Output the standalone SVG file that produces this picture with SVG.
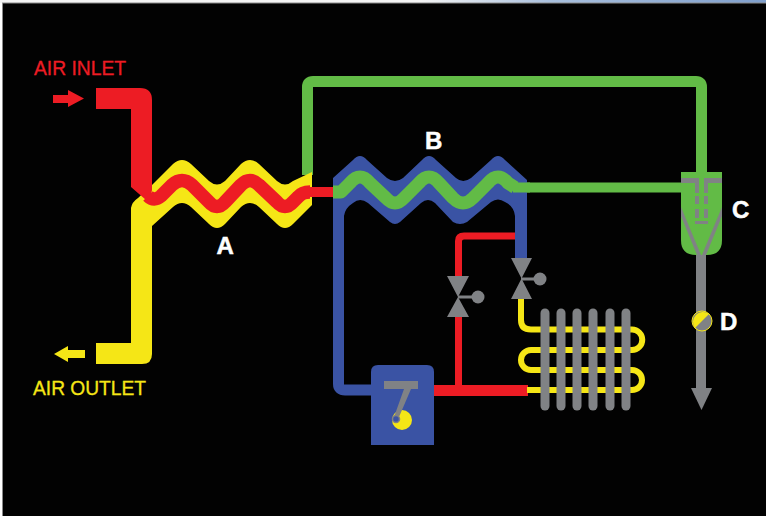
<svg xmlns="http://www.w3.org/2000/svg" width="766" height="516" viewBox="0 0 766 516">
<style>
.lab{font-family:"Liberation Sans",Arial,sans-serif;font-size:20px;stroke-width:.3}
.let{font-family:"Liberation Sans",Arial,sans-serif;font-size:24px;font-weight:bold;fill:#fff;stroke:#fff;stroke-width:.5}
.r{fill:#ED1C24}.y{fill:#F5E616}.b{fill:#3A53A4}.g{fill:#62BB46}.k{fill:#808285}
.pipe{fill:none;stroke-linejoin:round}
.coil{fill:none;stroke:#F5E616;stroke-width:6}
.fin{stroke:#808285;stroke-width:9;stroke-linecap:round}
.stem{stroke:#808285;stroke-width:3}
</style>
<defs>
<linearGradient id="edge" x1="0" x2="1" y1="0" y2="0">
<stop offset="0" stop-color="#f4f4f4"/><stop offset=".55" stop-color="#f4f4f4"/><stop offset=".72" stop-color="#a9c0de"/><stop offset="1" stop-color="#7f9fcc"/>
</linearGradient>
</defs>
<rect width="766" height="516" fill="#fff"/>
<rect width="766" height="3" fill="url(#edge)"/>
<rect x="2" y="2.500" width="764" height="514" fill="#8a8a8a"/>
<rect x="3" y="3.500" width="763" height="513" fill="#020202"/>

<g id="connectors">
<path id="pipe-green-top" class="pipe" stroke="#62BB46" stroke-width="11" d="M307.500 175V87Q307.500 81.500 313 81.500H696Q701.500 81.500 701.500 87V175"/>
<path id="pipe-blue-left" class="pipe" stroke="#3A53A4" stroke-width="11" d="M338.500 200V384Q338.500 390 345 390H375"/>
<path id="pipe-red-thin" class="pipe" stroke="#ED1C24" stroke-width="7" d="M458.500 278V241Q458.500 236 464 236H516"/>
<path id="pipe-red-low" class="pipe" stroke="#ED1C24" stroke-width="7" d="M458.500 315V388"/>
<rect id="pipe-red-thick" class="r" x="434" y="385" width="94" height="11"/>
<path id="pipe-green-mid" class="pipe" stroke="#62BB46" stroke-width="10" d="M515 187.500H685"/>
<rect id="pipe-gray" class="k" x="696" y="254" width="10" height="136"/>
<polygon id="outlet-head" class="k" points="691,388 712,388 701.500,410"/>
<polygon id="arrow-in" class="r" points="53,95 68,95 68,90 84,98.500 68,107 68,103 53,103"/>
<polygon id="arrow-out" class="y" points="54,354 68,346 68,350 85,350 85,358 68,358 68,362"/>
</g>

<g id="node-a">
<path class="y" d="M152 185L173 164Q182 156 191 164L209 181Q217 188 225 181L241 164Q250 156 259 164L277 181Q285 188 293 181L312 172V205L293 224Q285 232 277 224L259 207Q250 199 241 207L225 224Q217 232 209 224L191 207Q182 199 173 207L152 226V354Q152 364 142 364H96V343H131V208Q132 202 138 198Z"/>
<path class="r" d="M96 88H140Q152 88 152 100V190L150 200H146L131 187V109H96Z"/>
<path class="pipe" stroke="#ED1C24" stroke-width="13.500" d="M148 196Q154 202 161 196L172 185Q182 176 192 185L209 202Q217 211 225 202L241 185Q250 176 259 185L277 202Q285 211 293 202L298 197Q302 192 310 192"/>
<rect class="r" x="308" y="187" width="26" height="10"/>
<text class="let" x="216.500" y="254">A</text>
</g>

<g id="node-b">
<path class="b" d="M333 178L353 160Q360 152 367 160L387 178Q395 184 403 178L422 160Q429 152 436 160L456 178Q463 184 471 178L491 160Q498 152 505 160L527 180V262H515V216Q514 206 505 202Q498 197 491 202L467 222Q460 226 453 222L435 203Q428 197 421 203L400 222Q395 226 390 222L368 203Q360 197 353 203Q345 208 344 216V240H333Z"/>
<path class="pipe" stroke="#62BB46" stroke-width="13" d="M333 192H341L350 183Q360 171 370 183L386 198Q395 208 404 198L419 183Q429 171 439 183L453 198Q463 208 473 198L488 183Q498 171 508 183L515 187.500"/>
<rect class="g" x="333" y="187" width="8" height="10"/>
<rect class="g" x="513" y="182.500" width="17" height="10"/>
<text class="let" x="425" y="149">B</text>
</g>

<g id="node-c">
<path class="g" d="M681 172H722V240Q722 255 707 255H696Q681 255 681 240Z"/>
<path class="k" d="M681 178H699V193H695V183H681ZM722 178H704V193H708V183H722Z"/>
<path class="k" d="M695 196H699V204H695ZM704 196H708V204H704ZM695 209H699V218H695ZM704 209H708V218H704ZM695 221H708V224H695Z"/>
<path class="k" d="M681 207V216L697 255H701ZM722 207V216L706 255H702Z"/>
<text class="let" x="732" y="218">C</text>
</g>

<g id="node-d">
<circle cx="702" cy="321" r="10" class="k" stroke="#F5E616" stroke-width="1"/>
<path class="y" d="M695 328A10 10 0 0 1 709 314Z"/>
<text class="let" x="720" y="330">D</text>
</g>

<g id="compressor">
<path class="b" d="M371 372Q371 365 378 365H427Q434 365 434 372V445H371Z"/>
<circle class="y" cx="402" cy="420" r="10"/>
<path class="k" d="M384 381H418V389H411L399 417H394L404 389H384Z"/>
<circle cx="396" cy="419" r="3.500" fill="#3A53A4" stroke="#808285" stroke-width="1.500"/>
</g>

<g id="valve-1">
<line class="stem" x1="458" y1="297" x2="476" y2="297"/>
<path class="k" d="M447 276H469L458 297L469 317H447L458 297Z"/>
<circle class="k" cx="478" cy="297" r="6.500"/>
</g>

<g id="valve-2">
<line class="stem" x1="521" y1="279" x2="538" y2="279"/>
<path class="k" d="M511 258H532L521.500 278.500L532 299H511L521.500 278.500Z"/>
<circle class="k" cx="540" cy="279" r="6.500"/>
</g>

<g id="condenser">
<path class="coil" d="M521 299V320Q521 329.500 531 329.500H632A10.250 10.250 0 0 1 632 350H531A10 10 0 0 0 531 370H632A10 10 0 0 1 632 390H527"/>
<line class="fin" x1="545" y1="313" x2="545" y2="406"/>
<line class="fin" x1="561" y1="313" x2="561" y2="406"/>
<line class="fin" x1="577" y1="313" x2="577" y2="406"/>
<line class="fin" x1="593" y1="313" x2="593" y2="406"/>
<line class="fin" x1="610" y1="313" x2="610" y2="406"/>
<line class="fin" x1="626" y1="313" x2="626" y2="406"/>
</g>

<g id="labels">
<text class="lab" x="34" y="75" fill="#ED1C24" stroke="#ED1C24" textLength="92" lengthAdjust="spacingAndGlyphs">AIR INLET</text>
<text class="lab" x="33" y="395" fill="#F5E616" stroke="#F5E616" textLength="113" lengthAdjust="spacingAndGlyphs">AIR OUTLET</text>
</g>
</svg>
